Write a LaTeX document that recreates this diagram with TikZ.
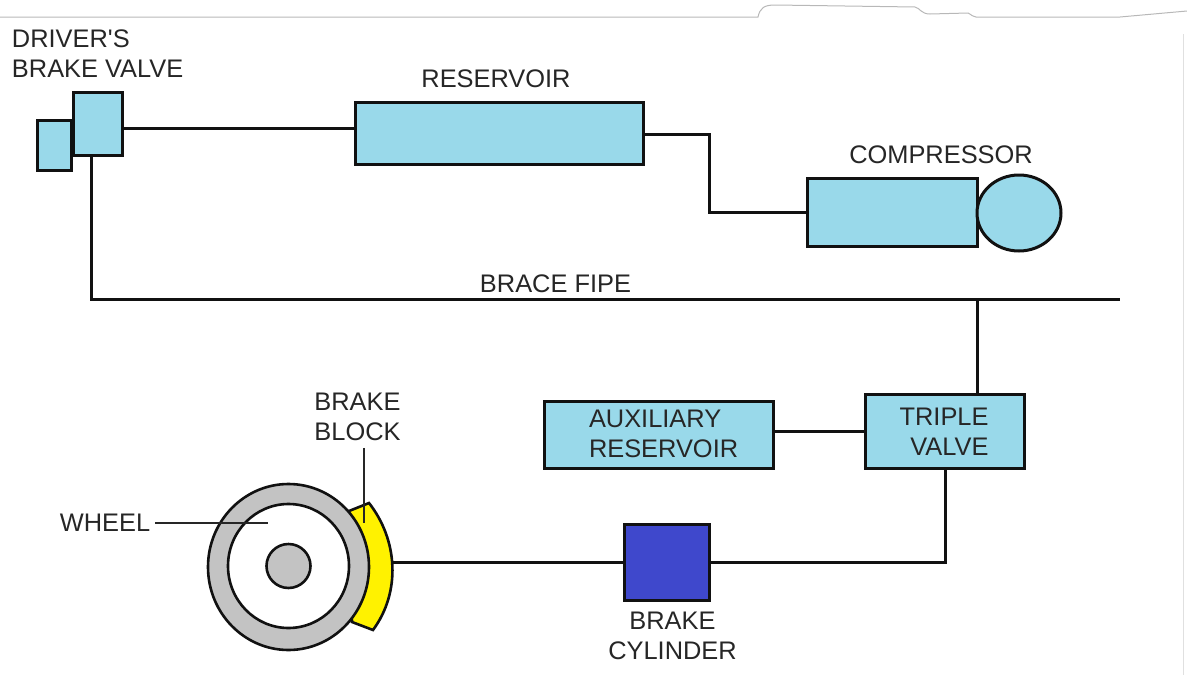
\documentclass[tikz,border=0pt]{standalone}
\usepackage{fontspec}
\newfontfamily\labelfont{Liberation Sans}
\usetikzlibrary{calc,shapes.geometric}
\definecolor{pipeblue}{HTML}{99D9EA}
\definecolor{cylblue}{HTML}{3F48CC}
\definecolor{ink}{HTML}{111111}
\definecolor{txt}{HTML}{262626}
\definecolor{wheelgrey}{HTML}{C3C3C3}
\definecolor{blockyellow}{HTML}{FFF200}
\tikzset{
  x=1pt,y=-1pt,
  part/.style={draw=ink,line width=3pt,fill=pipeblue,inner sep=0pt,outer sep=0pt,anchor=north west},
  pipe/.style={draw=ink,line width=3pt},
  leader/.style={draw=txt,line width=1.2pt},
  rim/.style={draw=ink,line width=2.6pt,ellipse,inner sep=0pt,outer sep=0pt},
  lab/.style={text=txt,inner sep=0pt,outer sep=0pt,font=\labelfont\fontsize{25.4}{30}\selectfont},
  scan/.style={draw=black!28,line width=1pt},
}
\begin{document}
\begin{tikzpicture}
\useasboundingbox (0,0) rectangle (1187,675);
% scan edge at top of the picture
\draw[scan] (0,17) -- (758,17) .. controls (760,8) and (764,5) .. (775,5) -- (915,7) .. controls (920,8) and (921,14) .. (930,14) -- (968,13) .. controls (972,15) and (973,17) .. (976,17) -- (1120,17) -- (1187,11);
\draw[draw=black!12,line width=.8pt] (1183,34) -- (1183,675);
% boxes
\node[part,minimum width=34pt,minimum height=50pt] (small) at (37,120) {};
\node[part,minimum width=49pt,minimum height=63pt] (valve) at (73,92) {};
\node[part,minimum width=288pt,minimum height=62pt] (res) at (355,102) {};
\node[part,minimum width=170pt,minimum height=68pt] (comp) at (807,178) {};
\node[draw=ink,line width=3pt,fill=pipeblue,ellipse,minimum width=84pt,minimum height=76pt,inner sep=0pt,outer sep=0pt] (motor) at (1019,213) {};
\node[part,minimum width=159pt,minimum height=74pt] (triple) at (865,394) {};
\node[part,minimum width=229pt,minimum height=67pt] (aux) at (544,401) {};
\node[part,fill=cylblue,minimum width=85pt,minimum height=76pt] (cyl) at (624,524) {};
% wheel
\coordinate (hub) at (288.5,567);
\coordinate (hubinner) at (288.5,566);
\path[draw=ink,line width=2.6pt,fill=blockyellow]
  (349,511) -- (369,503) .. controls (398,540) and (401,592) .. (373,630) -- (352,622) -- cycle;
\coordinate (blockedge) at (392,562);
\node[rim,fill=wheelgrey,minimum width=161pt,minimum height=166pt] (tyre) at (hub) {};
\node[rim,fill=white,minimum width=121pt,minimum height=124pt] (disc) at (hubinner) {};
\node[rim,fill=wheelgrey,minimum width=44pt,minimum height=44pt] (axle) at (hubinner) {};
% pipes
\coordinate (pipeend) at (1120,299);
\draw[pipe] ([yshift=-5pt]valve.east) -- ([yshift=4.5pt]res.west);
\draw[pipe] ([yshift=-1pt]res.east) -| ($(comp.west)+(-98,0)$) -- (comp.west);
\draw[pipe] ([xshift=-6.5pt]valve.south) |- (pipeend);
\draw[pipe] (triple.north -| comp.east) -- (comp.east |- pipeend);
\draw[pipe] (aux.east |- triple.west) -- (triple.west);
\draw[pipe] ([xshift=0.5pt]triple.south) |- (cyl.east);
\draw[pipe] (cyl.west) -- (blockedge);
% labels
\node[lab,align=left,anchor=north west] (ldriver) at (12,30) {DRIVER'S\\BRAKE VALVE};
\node[lab,anchor=base] (lres) at (496,87) {RESERVOIR};
\node[lab,anchor=base] (lcomp) at (941,163) {COMPRESSOR};
\node[lab,anchor=base] (lpipe) at (555.5,292) {BRACE FIPE};
\node[lab,align=left,anchor=west] (laux) at (589,434) {AUXILIARY\\RESERVOIR};
\node[lab,align=right,anchor=east] (ltriple) at (988.5,432) {TRIPLE\\VALVE};
\node[lab,align=center] (lblock) at (357.5,417) {BRAKE\\BLOCK};
\node[lab,anchor=base] (lwheel) at (105,531) {WHEEL};
\node[lab,align=center] (lcyl) at (672.5,636) {BRAKE\\CYLINDER};
% leader lines
\coordinate (wheeltip) at (268,523);
\coordinate (blocktip) at (364,523);
\draw[leader] (lwheel.east |- wheeltip) ++(5,0) -- (wheeltip);
\draw[leader] (blocktip |- lblock.south) ++(0,7) -- (blocktip);
\end{tikzpicture}
\end{document}
